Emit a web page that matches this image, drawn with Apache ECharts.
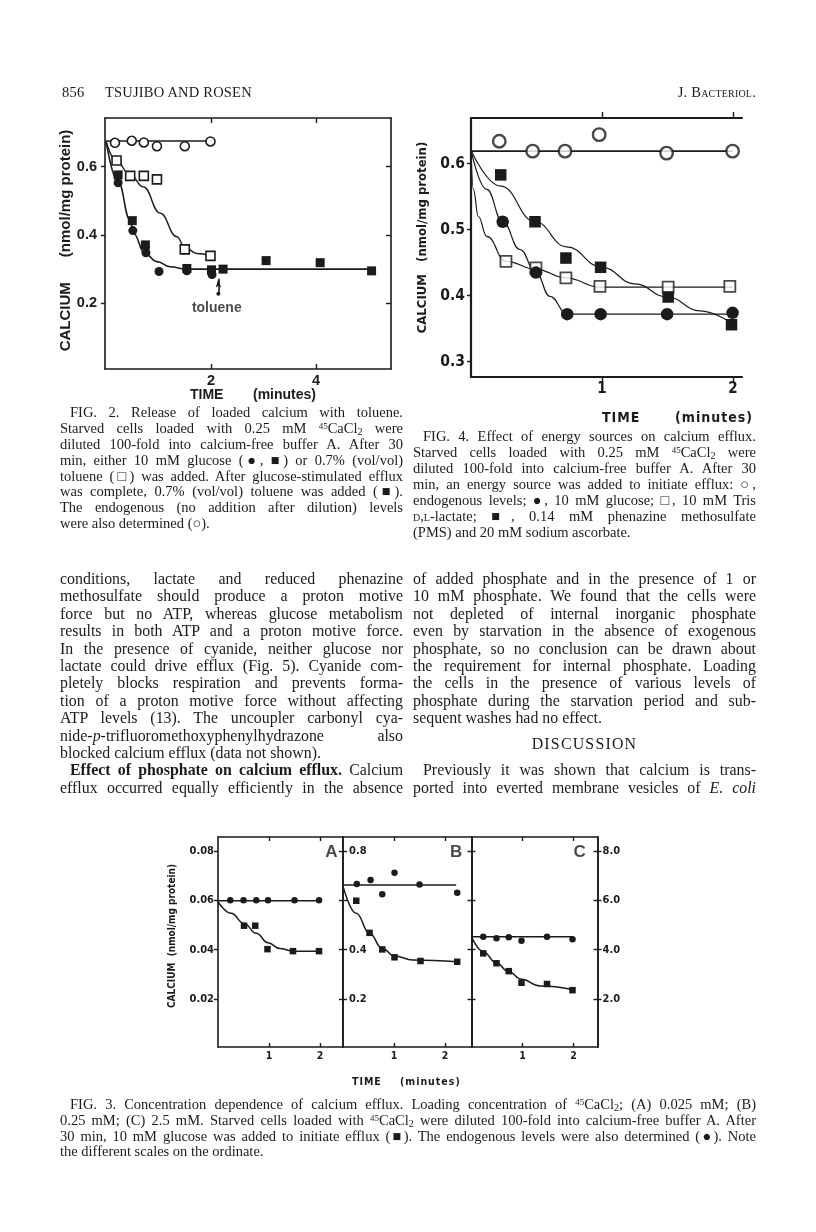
<!DOCTYPE html>
<html><head><meta charset="utf-8">
<script src="https://cdn.jsdelivr.net/npm/echarts@6/dist/echarts.min.js"></script>
<style>
html,body{margin:0;padding:0;background:#fff;}
#page{position:relative;width:816px;height:1232px;overflow:hidden;background:#fff;}
#chart{position:absolute;left:0;top:0;width:816px;height:1232px;}
.t{position:absolute;white-space:nowrap;font-family:'Liberation Serif','Times New Roman',serif;color:#1b1b1b;z-index:2;}
.b{font-size:15.9px;line-height:18px;height:18px;}
.c{font-size:14.5px;line-height:16px;height:16px;}
.j{text-align:justify;text-align-last:justify;}
.c1{left:60px;width:343px;}
.c2{left:413px;width:343px;}
.full{left:60px;width:696px;}
.ind{padding-left:10px;box-sizing:border-box;}
sup{font-size:0.62em;vertical-align:0.5em;line-height:0;}
sub{font-size:0.7em;vertical-align:-0.2em;line-height:0;}
.hdr{font-size:14.5px;line-height:18px;letter-spacing:0.2px;}
.sc{font-variant:small-caps;}
.ax{font-family:'Liberation Sans',Arial,Helvetica,sans-serif;font-weight:bold;}
.cond{font-family:'DejaVu Sans Condensed','Liberation Sans Narrow','Arial Narrow',sans-serif;font-weight:bold;}
</style>
</head>
<body>
<div id="page">
<div id="chart"></div>

<!-- running head -->
<div class="t hdr" style="left:62px;top:83px">856</div>
<div class="t hdr" style="left:105px;top:83px">TSUJIBO AND ROSEN</div>
<div class="t hdr" style="right:60px;top:83px">J. B<span class="sc">acteriol</span>.</div>

<!-- axis titles (time) -->
<div class="t ax" style="left:190px;top:385px;font-size:14px;line-height:18px">TIME</div>
<div class="t ax" style="left:253px;top:385px;font-size:14px;line-height:18px">(minutes)</div>
<div class="t cond" style="left:602px;top:408px;font-size:14px;line-height:18px;letter-spacing:1px">TIME</div>
<div class="t cond" style="left:675px;top:408px;font-size:14px;line-height:18px;letter-spacing:1px">(minutes)</div>
<div class="t cond" style="left:352px;top:1074px;font-size:10.5px;line-height:15px;letter-spacing:1px">TIME</div>
<div class="t cond" style="left:400px;top:1074px;font-size:10.5px;line-height:15px;letter-spacing:1px">(minutes)</div>

<!-- Fig. 2 caption -->
<div class="t c c1 j ind" style="top:404px">FIG. 2. Release of loaded calcium with toluene.</div>
<div class="t c c1 j" style="top:420px">Starved cells loaded with 0.25 mM <sup>45</sup>CaCl<sub>2</sub> were</div>
<div class="t c c1 j" style="top:436px">diluted 100-fold into calcium-free buffer A. After 30</div>
<div class="t c c1 j" style="top:452px">min, either 10 mM glucose (●, ■) or 0.7% (vol/vol)</div>
<div class="t c c1 j" style="top:467.5px">toluene (□) was added. After glucose-stimulated efflux</div>
<div class="t c c1 j" style="top:483.3px">was complete, 0.7% (vol/vol) toluene was added (■).</div>
<div class="t c c1 j" style="top:499px">The endogenous (no addition after dilution) levels</div>
<div class="t c c1" style="top:515px">were also determined (○).</div>

<!-- Fig. 4 caption -->
<div class="t c c2 j ind" style="top:428.3px">FIG. 4. Effect of energy sources on calcium efflux.</div>
<div class="t c c2 j" style="top:444.2px">Starved cells loaded with 0.25 mM <sup>45</sup>CaCl<sub>2</sub> were</div>
<div class="t c c2 j" style="top:460.1px">diluted 100-fold into calcium-free buffer A. After 30</div>
<div class="t c c2 j" style="top:476px">min, an energy source was added to initiate efflux: ○,</div>
<div class="t c c2 j" style="top:491.9px">endogenous levels; ●, 10 mM glucose; □, 10 mM Tris</div>
<div class="t c c2 j" style="top:507.8px"><span class="sc">d,l</span>-lactate; ■, 0.14 mM phenazine methosulfate</div>
<div class="t c c2" style="top:523.7px">(PMS) and 20 mM sodium ascorbate.</div>

<!-- body column 1 -->
<div class="t b c1 j" style="top:570px">conditions, lactate and reduced phenazine</div>
<div class="t b c1 j" style="top:587.4px">methosulfate should produce a proton motive</div>
<div class="t b c1 j" style="top:604.8px">force but no ATP, whereas glucose metabolism</div>
<div class="t b c1 j" style="top:622.2px">results in both ATP and a proton motive force.</div>
<div class="t b c1 j" style="top:639.6px">In the presence of cyanide, neither glucose nor</div>
<div class="t b c1 j" style="top:657px">lactate could drive efflux (Fig. 5). Cyanide com-</div>
<div class="t b c1 j" style="top:674.4px">pletely blocks respiration and prevents forma-</div>
<div class="t b c1 j" style="top:691.8px">tion of a proton motive force without affecting</div>
<div class="t b c1 j" style="top:709.2px">ATP levels (13). The uncoupler carbonyl cya-</div>
<div class="t b c1 j" style="top:726.6px">nide-<i>p</i>-trifluoromethoxyphenylhydrazone also</div>
<div class="t b c1" style="top:744px">blocked calcium efflux (data not shown).</div>
<div class="t b c1 j ind" style="top:761.4px"><b>Effect of phosphate on calcium efflux.</b> Calcium</div>
<div class="t b c1 j" style="top:778.8px">efflux occurred equally efficiently in the absence</div>

<!-- body column 2 -->
<div class="t b c2 j" style="top:570px">of added phosphate and in the presence of 1 or</div>
<div class="t b c2 j" style="top:587.4px">10 mM phosphate. We found that the cells were</div>
<div class="t b c2 j" style="top:604.8px">not depleted of internal inorganic phosphate</div>
<div class="t b c2 j" style="top:622.2px">even by starvation in the absence of exogenous</div>
<div class="t b c2 j" style="top:639.6px">phosphate, so no conclusion can be drawn about</div>
<div class="t b c2 j" style="top:657px">the requirement for internal phosphate. Loading</div>
<div class="t b c2 j" style="top:674.4px">the cells in the presence of various levels of</div>
<div class="t b c2 j" style="top:691.8px">phosphate during the starvation period and sub-</div>
<div class="t b c2" style="top:709.2px">sequent washes had no effect.</div>
<div class="t b c2" style="top:735px;text-align:center;letter-spacing:1.2px">DISCUSSION</div>
<div class="t b c2 j ind" style="top:761.4px">Previously it was shown that calcium is trans-</div>
<div class="t b c2 j" style="top:778.8px">ported into everted membrane vesicles of <i>E. coli</i></div>

<!-- Fig. 3 caption -->
<div class="t c full j ind" style="top:1096px">FIG. 3. Concentration dependence of calcium efflux. Loading concentration of <sup>45</sup>CaCl<sub>2</sub>; (A) 0.025 mM; (B)</div>
<div class="t c full j" style="top:1111.8px">0.25 mM; (C) 2.5 mM. Starved cells loaded with <sup>45</sup>CaCl<sub>2</sub> were diluted 100-fold into calcium-free buffer A. After</div>
<div class="t c full j" style="top:1127.6px">30 min, 10 mM glucose was added to initiate efflux (■). The endogenous levels were also determined (●). Note</div>
<div class="t c full" style="top:1143.4px">the different scales on the ordinate.</div>
</div>

<script>
// ---------------- Fig. 2 data (time in min, calcium nmol/mg protein) ----------------
const fig2XTicks = [2, 4];
const fig2YTicks = [0.2, 0.4, 0.6];
const fig2EndoX = [0.17, 0.49, 0.72, 0.97, 1.50, 1.99];
const fig2EndoY = [0.670, 0.676, 0.671, 0.660, 0.660, 0.674];
const fig2EndoLineX = [0, 2.0];
const fig2EndoLineY = [0.675, 0.675];
const fig2TolX = [0.20, 0.46, 0.72, 0.97, 1.50, 1.99];
const fig2TolY = [0.618, 0.573, 0.573, 0.563, 0.358, 0.339];
const fig2TolCurveX = [0, 0.20, 0.46, 0.71, 1.03, 1.35, 1.50, 1.73, 1.99];
const fig2TolCurveY = [0.675, 0.615, 0.576, 0.541, 0.464, 0.395, 0.364, 0.346, 0.339];
const fig2GluCircX = [0.23, 0.51, 0.76, 1.01, 1.54, 2.01, 2.02];
const fig2GluCircY = [0.553, 0.413, 0.348, 0.293, 0.295, 0.290, 0.284];
const fig2GluSqX = [0.23, 0.50, 0.75, 1.54, 2.01, 2.23, 3.05, 4.08, 5.06];
const fig2GluSqY = [0.576, 0.442, 0.371, 0.302, 0.298, 0.300, 0.325, 0.319, 0.295];
const fig2GluCurveX = [0, 0.23, 0.46, 0.52, 0.74, 0.97, 1.22, 1.54, 5.06];
const fig2GluCurveY = [0.675, 0.556, 0.444, 0.405, 0.346, 0.322, 0.307, 0.300, 0.300];
const fig2ArrowX = 2.14;
const fig2ArrowY = [0.228, 0.272];
const fig2TolueneLabel = [2.11, 0.186];

// ---------------- Fig. 4 data ----------------
const fig4XTicks = [1, 2];
const fig4YTicks = [0.3, 0.4, 0.5, 0.6];
const fig4EndoX = [0.216, 0.471, 0.718, 0.979, 1.494, 1.998];
const fig4EndoY = [0.634, 0.619, 0.619, 0.644, 0.616, 0.619];
const fig4EndoLineX = [0, 2.0];
const fig4EndoLineY = [0.619, 0.619];
const fig4GluX = [0.242, 0.496, 0.735, 0.990, 1.498, 1.998];
const fig4GluY = [0.512, 0.435, 0.372, 0.372, 0.372, 0.374];
const fig4GluCurveX = [0, 0.12, 0.242, 0.374, 0.496, 0.603, 0.735, 2.0];
const fig4GluCurveY = [0.62, 0.561, 0.512, 0.470, 0.435, 0.399, 0.372, 0.372];
const fig4LacX = [0.267, 0.496, 0.725, 0.985, 1.506, 1.977];
const fig4LacY = [0.452, 0.442, 0.427, 0.414, 0.413, 0.414];
const fig4LacCurveX = [0, 0.018, 0.056, 0.12, 0.267, 0.496, 0.725, 0.985, 2.0];
const fig4LacCurveY = [0.62, 0.561, 0.520, 0.490, 0.452, 0.440, 0.427, 0.413, 0.413];
const fig4PmsX = [0.227, 0.489, 0.725, 0.990, 1.506, 1.990];
const fig4PmsY = [0.583, 0.512, 0.457, 0.443, 0.398, 0.356];
const fig4PmsCurveX = [0, 0.227, 0.489, 0.73, 1.0, 1.25, 1.5, 1.75, 2.0];
const fig4PmsCurveY = [0.62, 0.566, 0.512, 0.474, 0.443, 0.418, 0.398, 0.377, 0.357];

// ---------------- Fig. 3 data ----------------
const fig3XTicks = [1, 2];
const fig3ATicks = [0.02, 0.04, 0.06, 0.08];
const fig3BTicks = [0.2, 0.4, 0.6, 0.8];
const fig3BLabels = [0.2, 0.4, 0.8];
const fig3CTicks = [2, 4, 6, 8];
const fig3AEndoX = [0.24, 0.50, 0.75, 0.98, 1.50, 1.98];
const fig3AEndoY = [0.060, 0.060, 0.060, 0.060, 0.060, 0.060];
const fig3AEndoLineX = [0, 1.98];
const fig3AEndoLineY = [0.0598, 0.0598];
const fig3AGluX = [0.51, 0.73, 0.97, 1.47, 1.98];
const fig3AGluY = [0.0497, 0.0497, 0.0402, 0.0394, 0.0394];
const fig3AGluCurveX = [0, 0.26, 0.51, 0.75, 0.98, 1.21, 1.47, 1.98];
const fig3AGluCurveY = [0.0594, 0.0547, 0.0506, 0.0466, 0.0428, 0.0405, 0.0394, 0.0394];
const fig3BEndoX = [0.27, 0.54, 0.77, 1.01, 1.50, 2.24];
const fig3BEndoY = [0.666, 0.682, 0.624, 0.711, 0.664, 0.630];
const fig3BEndoLineX = [0, 2.22];
const fig3BEndoLineY = [0.662, 0.662];
const fig3BGluX = [0.26, 0.52, 0.77, 1.01, 1.52, 2.24];
const fig3BGluY = [0.598, 0.468, 0.401, 0.369, 0.354, 0.351];
const fig3BGluCurveX = [0, 0.26, 0.52, 0.77, 1.01, 1.37, 2.24];
const fig3BGluCurveY = [0.657, 0.547, 0.466, 0.405, 0.374, 0.358, 0.351];
const fig3CEndoX = [0.23, 0.49, 0.73, 0.98, 1.48, 1.98];
const fig3CEndoY = [4.52, 4.46, 4.50, 4.36, 4.52, 4.42];
const fig3CEndoLineX = [0, 1.98];
const fig3CEndoLineY = [4.52, 4.52];
const fig3CGluX = [0.23, 0.49, 0.73, 0.98, 1.48, 1.98];
const fig3CGluY = [3.85, 3.45, 3.13, 2.66, 2.61, 2.36];
const fig3CGluCurveX = [0, 0.23, 0.49, 0.73, 0.98, 1.34, 1.98];
const fig3CGluCurveY = [4.52, 3.92, 3.45, 3.11, 2.80, 2.53, 2.39];
const fig3PanelNames = ['A', 'B', 'C'];
const fig3PanelLabelX = [2.22, 2.22, 2.12];
const fig3PanelLabelY = [0.0796, 0.796, 7.96];

// ---------------- build chart ----------------
const INK = '#1b1b1b';
const SANS = "'Liberation Sans', Arial, Helvetica, sans-serif";
const COND = "'DejaVu Sans Condensed', 'Liberation Sans Narrow', 'Arial Narrow', sans-serif";
const chart = echarts.init(document.getElementById('chart'), null, {renderer: 'canvas', width: 816, height: 1232});

const grids = [
  {left: 105, top: 118, width: 286, height: 251},    // Fig 2
  {left: 471, top: 118, width: 271, height: 259},    // Fig 4
  {left: 218, top: 837, width: 125, height: 210},    // Fig 3 A
  {left: 343, top: 837, width: 128.5, height: 210},  // Fig 3 B
  {left: 471.5, top: 837, width: 126, height: 210}   // Fig 3 C
];

const xAxes = [], yAxes = [];
function axis(grid, pos, min, max, o) {
  o = o || {};
  const a = {
    type: 'value', gridIndex: grid, position: pos, min: min, max: max,
    splitLine: {show: false},
    axisLine: {show: o.line !== false, onZero: false, lineStyle: {color: INK, width: o.lw || 1.6}},
    axisTick: {show: !!o.ticks, inside: !!o.inside, length: o.tickLen || 5, lineStyle: {color: INK, width: o.tw || 1.4}},
    axisLabel: {show: !!o.labels, inside: !!o.labelInside, margin: o.margin || 6, color: INK,
      fontFamily: o.font || SANS, fontWeight: 'bold', fontSize: o.fs || 12}
  };
  if (o.ticks) a.axisTick.customValues = o.ticks;
  if (o.labels) { a.axisLabel.customValues = o.labels; a.axisLabel.formatter = o.fmt; }
  if (o.name) {
    a.name = o.name; a.nameLocation = 'middle'; a.nameGap = o.nameGap; a.nameRotate = 90;
    a.nameTextStyle = o.nameStyle;
  }
  return a;
}
function addX(a) { xAxes.push(a); return xAxes.length - 1; }
function addY(a) { yAxes.push(a); return yAxes.length - 1; }

const series = [];
function pairs(xs, ys) { return xs.map((x, i) => [x, ys[i]]); }
function pts(xi, yi, xs, ys, shape, size, open, extra) {
  const s = {type: 'scatter', xAxisIndex: xi, yAxisIndex: yi, data: pairs(xs, ys),
    symbol: shape, symbolSize: size, z: 5, silent: true,
    itemStyle: open ? {color: '#fff', borderColor: INK, borderWidth: 1.6, opacity: 1} : {color: INK, opacity: 1}};
  series.push(Object.assign(s, extra || {}));
}
function curve(xi, yi, xs, ys, w, smooth) {
  series.push({type: 'line', xAxisIndex: xi, yAxisIndex: yi, data: pairs(xs, ys), showSymbol: false, symbol: 'none',
    smooth: smooth ? 0.45 : false, smoothMonotone: 'x', lineStyle: {color: INK, width: w}, z: 3, silent: true});
}
function note(xi, yi, pos, text, font, size) {
  series.push({type: 'scatter', xAxisIndex: xi, yAxisIndex: yi, data: [pos], symbolSize: 0, z: 6, silent: true,
    label: {show: true, position: 'inside', formatter: text, color: INK, fontFamily: font, fontWeight: 'bold', fontSize: size}});
}

// ---- Fig 2 axes ----
const f2x = addX(axis(0, 'bottom', -0.02, 5.43, {ticks: fig2XTicks, inside: true, tickLen: 5, labels: fig2XTicks,
  fmt: v => String(v), fs: 14.5, margin: 4}));
addX(axis(0, 'top', -0.02, 5.43, {ticks: fig2XTicks, inside: true, tickLen: 5}));
const f2y = addY(axis(0, 'left', 0.0076, 0.7426, {ticks: fig2YTicks, tickLen: 4, labels: fig2YTicks,
  fmt: v => v.toFixed(1), fs: 14.5, margin: 8, name: 'CALCIUM      (nmol/mg protein)', nameGap: 32,
  nameStyle: {color: INK, fontFamily: SANS, fontWeight: 'bold', fontSize: 15, padding: [0, 0, 0, 6]}}));
addY(axis(0, 'right', 0.0076, 0.7426, {ticks: fig2YTicks, inside: true, tickLen: 5}));

// ---- Fig 4 axes ----
const f4x = addX(axis(1, 'bottom', 0, 2.07, {ticks: fig4XTicks, tickLen: 5, labels: fig4XTicks,
  fmt: v => String(v), font: COND, fs: 15, margin: 5, lw: 2.2}));
addX(axis(1, 'top', 0, 2.07, {ticks: fig4XTicks, tickLen: 6, lw: 2.2}));
const f4y = addY(axis(1, 'left', 0.2768, 0.6692, {ticks: fig4YTicks, tickLen: 4, labels: fig4YTicks,
  fmt: v => v.toFixed(1), font: COND, fs: 15.5, margin: 6, lw: 2.2, name: 'CALCIUM   (nmol/mg protein)', nameGap: 42,
  nameStyle: {color: INK, fontFamily: COND, fontWeight: 'bold', fontSize: 13, padding: [0, 0, 0, 20]}}));

// ---- Fig 3 axes ----
const f3Max = [2.45, 2.52, 2.47];
const f3x = [];
for (let p = 0; p < 3; p++) {
  f3x.push(addX(axis(2 + p, 'bottom', 0, f3Max[p], {ticks: fig3XTicks, inside: true, tickLen: 4, labels: fig3XTicks,
    fmt: v => String(v), font: COND, fs: 10.5, margin: 4})));
  addX(axis(2 + p, 'top', 0, f3Max[p], {ticks: fig3XTicks, inside: true, tickLen: 4}));
}
const f3yA = addY(axis(2, 'left', 0.0006, 0.0856, {ticks: fig3ATicks, tickLen: 4, labels: fig3ATicks,
  fmt: v => v.toFixed(2), font: COND, fs: 11, margin: 4, name: 'CALCIUM  (nmol/mg protein)', nameGap: 41,
  nameStyle: {color: INK, fontFamily: COND, fontWeight: 'bold', fontSize: 10, padding: [0, 0, 0, 12]}}));
const f3yB = addY(axis(3, 'left', 0.006, 0.856, {ticks: fig3BTicks, inside: true, tickLen: 4, labels: fig3BLabels,
  labelInside: true, fmt: v => v.toFixed(1), font: COND, fs: 11, margin: 6}));
addY(axis(3, 'left', 0.006, 0.856, {ticks: fig3BTicks, tickLen: 4}));
const f3yC = addY(axis(4, 'left', 0.06, 8.56, {ticks: fig3CTicks, inside: true, tickLen: 4}));
addY(axis(4, 'left', 0.06, 8.56, {ticks: fig3CTicks, tickLen: 4}));
addY(axis(4, 'right', 0.06, 8.56, {ticks: fig3CTicks, inside: true, tickLen: 4}));
addY(axis(4, 'right', 0.06, 8.56, {ticks: fig3CTicks, tickLen: 4, labels: fig3CTicks,
  fmt: v => v.toFixed(1), font: COND, fs: 11, margin: 5}));

// ---- Fig 2 series ----
curve(f2x, f2y, fig2EndoLineX, fig2EndoLineY, 1.5, false);
curve(f2x, f2y, fig2TolCurveX, fig2TolCurveY, 1.4, true);
curve(f2x, f2y, fig2GluCurveX, fig2GluCurveY, 1.6, true);
pts(f2x, f2y, fig2EndoX, fig2EndoY, 'circle', 9, true);
pts(f2x, f2y, fig2TolX, fig2TolY, 'rect', 9, true);
pts(f2x, f2y, fig2GluCircX, fig2GluCircY, 'circle', 9, false);
pts(f2x, f2y, fig2GluSqX, fig2GluSqY, 'rect', 9, false, {
  markLine: {silent: true, symbol: ['circle', 'arrow'], symbolSize: [4, 9], animation: false,
    lineStyle: {color: INK, width: 1.6, type: 'solid'}, label: {show: false},
    data: [[{coord: [fig2ArrowX, fig2ArrowY[0]]}, {coord: [fig2ArrowX, fig2ArrowY[1]]}]]}
});
note(f2x, f2y, fig2TolueneLabel, 'toluene', SANS, 14);

// ---- Fig 4 series ----
curve(f4x, f4y, fig4EndoLineX, fig4EndoLineY, 1.6, false);
curve(f4x, f4y, fig4GluCurveX, fig4GluCurveY, 1.2, true);
curve(f4x, f4y, fig4LacCurveX, fig4LacCurveY, 1.2, true);
curve(f4x, f4y, fig4PmsCurveX, fig4PmsCurveY, 1.2, true);
pts(f4x, f4y, fig4EndoX, fig4EndoY, 'circle', 12.5, true, {itemStyle: {color: '#fff', borderColor: INK, borderWidth: 2.4}});
pts(f4x, f4y, fig4LacX, fig4LacY, 'rect', 11, true, {itemStyle: {color: '#fff', borderColor: INK, borderWidth: 1.8}});
pts(f4x, f4y, fig4GluX, fig4GluY, 'circle', 12.5, false);
pts(f4x, f4y, fig4PmsX, fig4PmsY, 'rect', 11.5, false);

// ---- Fig 3 series ----
curve(f3x[0], f3yA, fig3AEndoLineX, fig3AEndoLineY, 1.5, false);
curve(f3x[0], f3yA, fig3AGluCurveX, fig3AGluCurveY, 1.5, true);
pts(f3x[0], f3yA, fig3AEndoX, fig3AEndoY, 'circle', 6.5, false);
pts(f3x[0], f3yA, fig3AGluX, fig3AGluY, 'rect', 6.5, false);
curve(f3x[1], f3yB, fig3BEndoLineX, fig3BEndoLineY, 1.5, false);
curve(f3x[1], f3yB, fig3BGluCurveX, fig3BGluCurveY, 1.5, true);
pts(f3x[1], f3yB, fig3BEndoX, fig3BEndoY, 'circle', 6.5, false);
pts(f3x[1], f3yB, fig3BGluX, fig3BGluY, 'rect', 6.5, false);
curve(f3x[2], f3yC, fig3CEndoLineX, fig3CEndoLineY, 1.5, false);
curve(f3x[2], f3yC, fig3CGluCurveX, fig3CGluCurveY, 1.5, true);
pts(f3x[2], f3yC, fig3CEndoX, fig3CEndoY, 'circle', 6.5, false);
pts(f3x[2], f3yC, fig3CGluX, fig3CGluY, 'rect', 6.5, false);
const f3ys = [f3yA, f3yB, f3yC];
for (let p = 0; p < 3; p++) {
  note(f3x[p], f3ys[p], [fig3PanelLabelX[p], fig3PanelLabelY[p]], fig3PanelNames[p], SANS, 17);
}

chart.setOption({
  animation: false,
  backgroundColor: '#fff',
  grid: grids,
  xAxis: xAxes,
  yAxis: yAxes,
  series: series
});
</script>
</body></html>
